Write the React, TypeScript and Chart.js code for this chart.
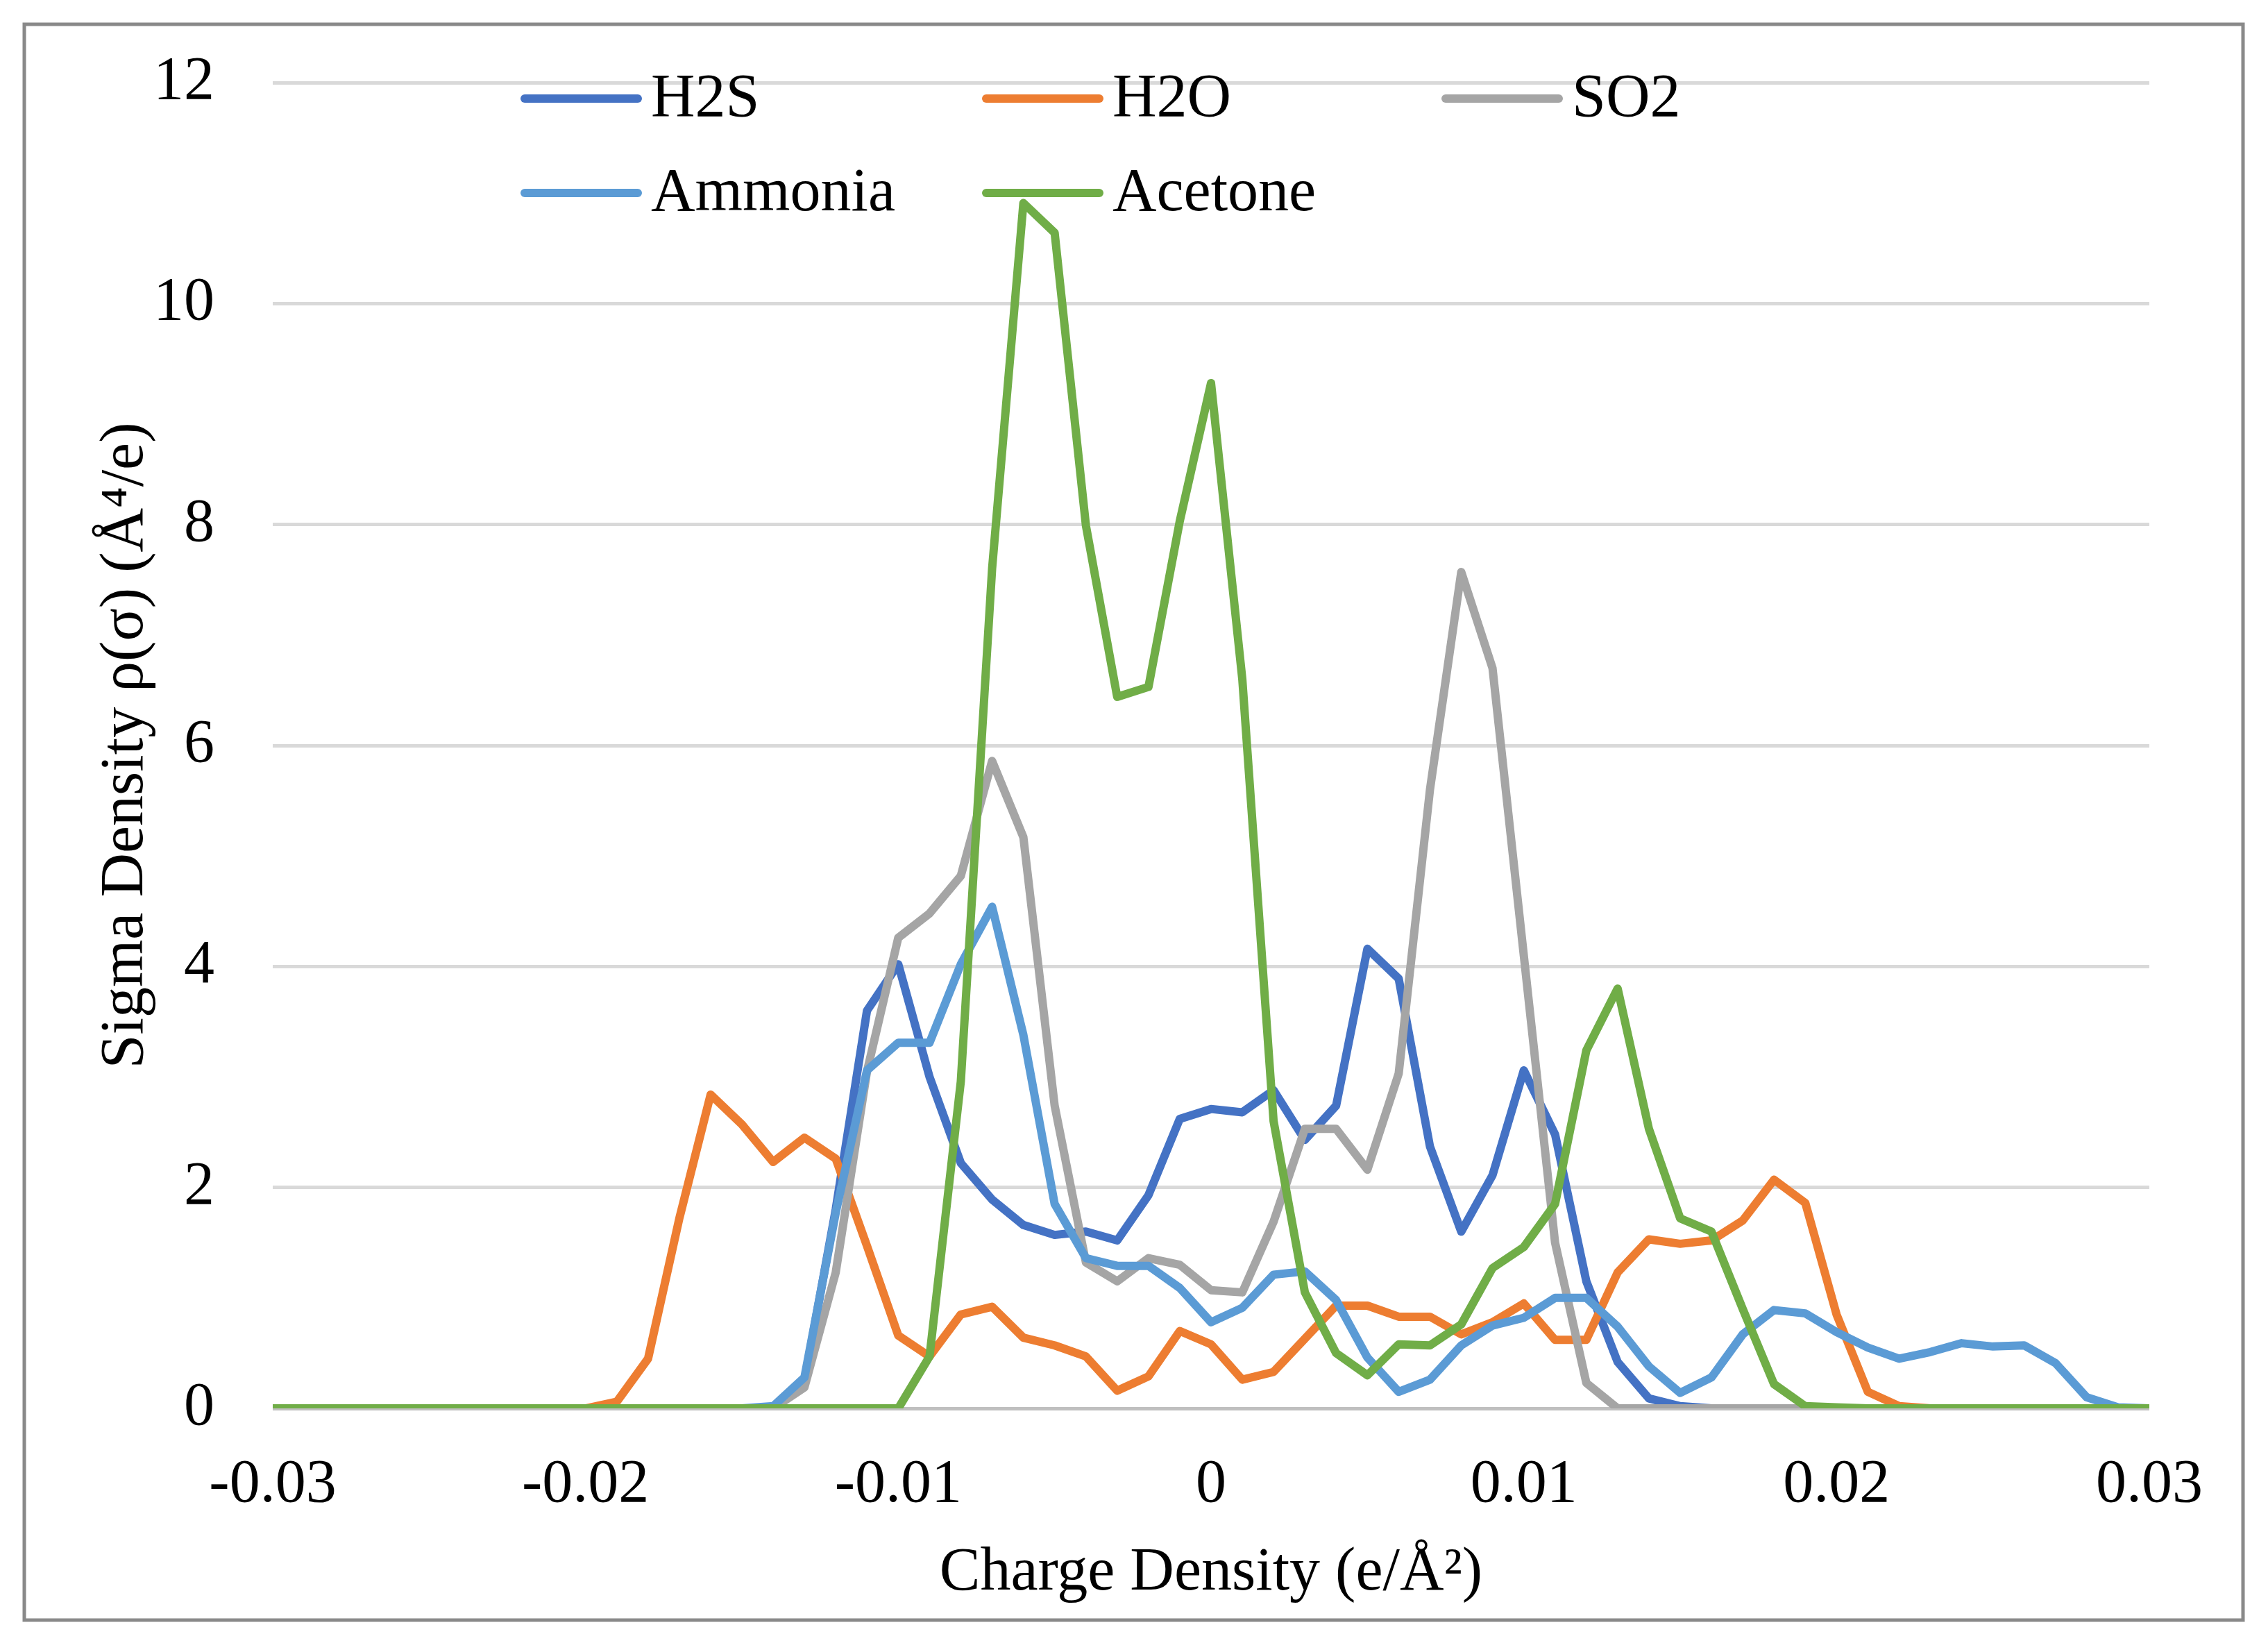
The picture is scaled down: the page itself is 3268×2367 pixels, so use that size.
import React, { useRef, useEffect } from "react";
import { Chart, ChartOptions, Plugin, registerables } from "chart.js";

Chart.register(...registerables);

// charge density grid, e/Å²
const charge = [
  -0.03, -0.029, -0.028, -0.027, -0.026, -0.025, -0.024, -0.023, -0.022, -0.021,
  -0.02, -0.019, -0.018, -0.017, -0.016, -0.015, -0.014, -0.013, -0.012, -0.011,
  -0.01, -0.009, -0.008, -0.007, -0.006, -0.005, -0.004, -0.003, -0.002, -0.001,
  0, 0.001, 0.002, 0.003, 0.004, 0.005, 0.006, 0.007, 0.008, 0.009,
  0.01, 0.011, 0.012, 0.013, 0.014, 0.015, 0.016, 0.017, 0.018, 0.019,
  0.02, 0.021, 0.022, 0.023, 0.024, 0.025, 0.026, 0.027, 0.028, 0.029, 0.03,
];

const h2s = [
  0, 0, 0, 0, 0, 0, 0, 0, 0, 0,
  0, 0, 0, 0, 0, 0, 0, 0.25, 1.8, 3.6,
  4.02, 3.0, 2.22, 1.89, 1.66, 1.57, 1.6, 1.52, 1.93, 2.62,
  2.71, 2.68, 2.88, 2.43, 2.74, 4.16, 3.89, 2.37, 1.6, 2.11,
  3.06, 2.48, 1.15, 0.42, 0.09, 0.02, 0, 0, 0, 0,
  0, 0, 0, 0, 0, 0, 0, 0, 0, 0, 0,
];

const h2o = [
  0, 0, 0, 0, 0, 0, 0, 0, 0, 0,
  0, 0.06, 0.45, 1.72, 2.84, 2.57, 2.23, 2.45, 2.26, 1.47,
  0.66, 0.47, 0.85, 0.92, 0.64, 0.57, 0.47, 0.16, 0.29, 0.7,
  0.58, 0.26, 0.33, 0.63, 0.93, 0.93, 0.83, 0.83, 0.67, 0.78,
  0.95, 0.62, 0.62, 1.23, 1.53, 1.49, 1.52, 1.7, 2.07, 1.86,
  0.85, 0.15, 0.02, 0, 0, 0, 0, 0, 0, 0, 0,
];

const so2 = [
  0, 0, 0, 0, 0, 0, 0, 0, 0, 0,
  0, 0, 0, 0, 0, 0, 0, 0.19, 1.23, 3.05,
  4.26, 4.48, 4.82, 5.86, 5.17, 2.74, 1.32, 1.15, 1.36, 1.3,
  1.07, 1.05, 1.69, 2.53, 2.53, 2.16, 3.03, 5.6, 7.57, 6.7,
  4.1, 1.5, 0.23, 0, 0, 0, 0, 0, 0, 0,
  0, 0, 0, 0, 0, 0, 0, 0, 0, 0, 0,
];

const ammonia = [
  0, 0, 0, 0, 0, 0, 0, 0, 0, 0,
  0, 0, 0, 0, 0, 0, 0.02, 0.28, 1.77, 3.06,
  3.31, 3.31, 4.02, 4.54, 3.38, 1.85, 1.36, 1.29, 1.29, 1.09,
  0.78, 0.91, 1.21, 1.24, 0.98, 0.46, 0.15, 0.26, 0.57, 0.75,
  0.82, 1.0, 1.0, 0.74, 0.38, 0.14, 0.28, 0.67, 0.89, 0.86,
  0.69, 0.55, 0.45, 0.51, 0.59, 0.56, 0.57, 0.41, 0.1, 0.01, 0,
];

const acetone = [
  0, 0, 0, 0, 0, 0, 0, 0, 0, 0,
  0, 0, 0, 0, 0, 0, 0, 0, 0, 0,
  0, 0.47, 2.96, 7.6, 10.91, 10.64, 7.99, 6.44, 6.53, 8.03,
  9.28, 6.6, 2.6, 1.05, 0.5, 0.3, 0.58, 0.57, 0.76, 1.27,
  1.46, 1.85, 3.24, 3.8, 2.53, 1.72, 1.6, 0.9, 0.22, 0.02,
  0.01, 0, 0, 0, 0, 0, 0, 0, 0, 0, 0,
];

const seriesNames = ["H2S", "H2O", "SO2", "Ammonia", "Acetone"];
const seriesColors = ["#4472C4", "#ED7D31", "#A5A5A5", "#5B9BD5", "#70AD47"];
const seriesValues = [h2s, h2o, so2, ammonia, acetone];

const FONT = "'Liberation Serif', 'Times New Roman', 'DejaVu Serif', serif";
const FONT_SIZE = 88;
const LINE_W = 12;

// Excel-like legend: 3 columns, 2 rows, inside the plot area
const legendPlugin: Plugin = {
  id: "gridLegend",
  afterDraw(chart) {
    const { ctx, chartArea } = chart;
    const colX = [363, 1028, 1690];
    const rowY = [23, 159];
    const lineLen = 163;
    ctx.save();
    ctx.font = `${FONT_SIZE}px ${FONT}`;
    ctx.textBaseline = "middle";
    ctx.fillStyle = "#000";
    seriesNames.forEach((name, i) => {
      const x = chartArea.left + colX[i % 3];
      const y = chartArea.top + rowY[Math.floor(i / 3)];
      ctx.strokeStyle = seriesColors[i];
      ctx.lineWidth = LINE_W;
      ctx.lineCap = "round";
      ctx.beginPath();
      ctx.moveTo(x, y);
      ctx.lineTo(x + lineLen, y);
      ctx.stroke();
      ctx.fillText(name, x + lineLen + 19, y + 2);
    });
    ctx.restore();
  },
};

const framePlugin: Plugin = {
  id: "frame",
  beforeDraw(chart) {
    const { ctx } = chart;
    ctx.save();
    ctx.fillStyle = "#fff";
    ctx.fillRect(0, 0, chart.width, chart.height);
    ctx.strokeStyle = "#898989";
    ctx.lineWidth = 5;
    ctx.strokeRect(35, 35, 3197, 2299);
    ctx.restore();
  },
};

const SigmaProfileChart: React.FC = () => {
  const chartRef = useRef<HTMLCanvasElement>(null);

  useEffect(() => {
    document.body.style.margin = "0";
    if (!chartRef.current) return;

    const datasets = seriesNames.map((name, i) => ({
      label: name,
      data: charge.map((x, j) => ({ x, y: seriesValues[i][j] })),
      borderColor: seriesColors[i],
      backgroundColor: seriesColors[i],
      borderWidth: LINE_W,
      borderJoinStyle: "round" as const,
      borderCapStyle: "round" as const,
      pointRadius: 0,
      fill: false,
      tension: 0,
      order: seriesNames.length - i,
    }));

    const options: ChartOptions<"line"> = {
      responsive: false,
      animation: false,
      devicePixelRatio: 1,
      layout: {
        padding: { left: 0, top: 119, right: 171, bottom: 0 },
      },
      scales: {
        x: {
          type: "linear",
          min: -0.03,
          max: 0.03,
          grid: { display: false },
          border: { display: false },
          ticks: {
            stepSize: 0.01,
            color: "#000",
            padding: 50,
            maxRotation: 0,
            font: { family: FONT, size: FONT_SIZE },
            callback: (v) => String(Number(Number(v).toFixed(3))),
          },
          title: {
            display: true,
            text: "Charge Density (e/Å²)",
            color: "#000",
            font: { family: FONT, size: FONT_SIZE },
            padding: { top: 0, bottom: 47 },
          },
          afterFit: (scale) => {
            scale.height = 338;
          },
        },
        y: {
          min: 0,
          max: 12,
          grid: {
            color: (c) => (c.tick && c.tick.value === 0 ? "#BFBFBF" : "#D9D9D9"),
            lineWidth: 5,
            drawTicks: false,
          },
          border: { display: false },
          ticks: {
            stepSize: 2,
            color: "#000",
            padding: 84,
            font: { family: FONT, size: FONT_SIZE },
          },
          title: {
            display: true,
            text: "Sigma Density ρ(σ) (Å⁴/e)",
            color: "#000",
            font: { family: FONT, size: FONT_SIZE },
            padding: { top: 129, bottom: 0 },
          },
          afterFit: (scale) => {
            scale.width = 393;
            scale.paddingTop = 0;
            scale.paddingBottom = 0;
          },
        },
      },
      plugins: {
        legend: { display: false },
        tooltip: { enabled: false },
      },
    };

    const chartInstance = new Chart(chartRef.current, {
      type: "line",
      data: { datasets },
      options,
      plugins: [framePlugin, legendPlugin],
    });

    return () => {
      chartInstance.destroy();
    };
  }, []);

  return <canvas ref={chartRef} width={3268} height={2367} style={{ display: "block" }} />;
};

export default function App() {
  return <SigmaProfileChart />;
}
